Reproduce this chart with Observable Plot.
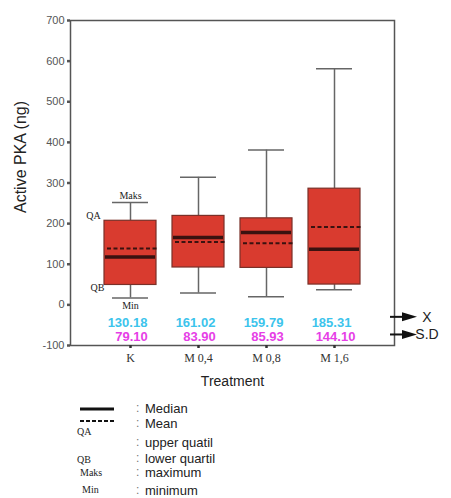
<!DOCTYPE html>
<html>
<head>
<meta charset="utf-8">
<script src="https://cdn.jsdelivr.net/npm/d3@7"></script>
<script src="https://cdn.jsdelivr.net/npm/@observablehq/plot@0.6"></script>
<style>
  body { margin: 0; background: #fff; font-family: "Liberation Sans", Arial, sans-serif; }
  #wrap { width: 451px; }
  #legend { position: relative; width: 451px; height: 103px; }
  #legend span { position: absolute; transform: translateY(-50%); white-space: nowrap; line-height: 1; }
  .k { font-family: "Liberation Serif", "Times New Roman", serif; font-size: 10px; color: #222; }
  .c { font-size: 12px; color: #777; }
  .t { font-size: 13px; color: #222; }
</style>
</head>
<body>
<div id="wrap">
  <div id="chart"></div>
  <div id="legend"></div>
</div>
<script>
// ---- data ----
const categories = ["K", "M 0,4", "M 0,8", "M 1,6"];
const maxima    = [252, 314, 381, 581];
const upperQ    = [207, 219, 213, 286];
const medians   = [118, 166, 178, 137];
const means     = [139, 155, 152, 192];
const lowerQ    = [49, 92, 91, 50];
const minima    = [17, 29, 20, 37];
const meanLabels = ["130.18", "161.02", "159.79", "185.31"];
const sdLabels   = ["79.10", "83.90", "85.93", "144.10"];
const yTicks = [-100, 0, 100, 200, 300, 400, 500, 600, 700];

const rows = categories.map((c, i) => ({
  cat: c, max: maxima[i], q3: upperQ[i], med: medians[i], mean: means[i],
  q1: lowerQ[i], min: minima[i], mLab: meanLabels[i], sLab: sdLabels[i]
}));
const first = [rows[0]];

const serif = "Liberation Serif, Times New Roman, serif";
const sans = "Liberation Sans, Arial, sans-serif";

const plot = Plot.plot({
  width: 451,
  height: 395,
  marginLeft: 70,
  marginRight: 57,
  marginTop: 20,
  marginBottom: 50,
  style: { fontFamily: sans, background: "#fff", overflow: "visible" },
  x: { type: "band", domain: categories, paddingInner: 0.24, paddingOuter: 0.478, label: null },
  y: { domain: [-100, 700], label: null },
  marks: [
    Plot.frame({ stroke: "#555", strokeWidth: 1.5 }),
    Plot.axisY({ ticks: yTicks, tickFormat: d => String(d), tickSize: 3, tickPadding: 3, fontSize: 11, color: "#555", strokeWidth: 2.5 }),
    Plot.axisX({ tickSize: 3, tickPadding: 5, fontSize: 12, fontFamily: serif, color: "#333", strokeWidth: 2.5 }),
    // whiskers
    Plot.ruleX(rows, { x: "cat", y1: "q3", y2: "max", stroke: "#666", strokeWidth: 1.5 }),
    Plot.ruleX(rows, { x: "cat", y1: "min", y2: "q1", stroke: "#666", strokeWidth: 1.5 }),
    Plot.tickY(rows, { x: "cat", y: "max", stroke: "#666", strokeWidth: 1.5, insetLeft: 8, insetRight: 8 }),
    Plot.tickY(rows, { x: "cat", y: "min", stroke: "#666", strokeWidth: 1.5, insetLeft: 8, insetRight: 8 }),
    // boxes
    Plot.barY(rows, { x: "cat", y1: "q1", y2: "q3", fill: "#d93b2f", stroke: "#7a3028", strokeWidth: 1.2 }),
    Plot.tickY(rows, { x: "cat", y: "med", stroke: "#3a1210", strokeWidth: 3.5, insetLeft: 1, insetRight: 1 }),
    Plot.tickY(rows, { x: "cat", y: "mean", stroke: "#3a1210", strokeWidth: 2, strokeDasharray: "4,2.5", insetLeft: 3, insetRight: -2 }),
    // value labels
    Plot.text(rows, { x: "cat", y: () => -43, text: "mLab", fill: "#3cc4ec", fontWeight: "bold", fontSize: 13, dx: -3 }),
    Plot.text(rows, { x: "cat", y: () => -79, text: "sLab", fill: "#e63ee6", fontWeight: "bold", fontSize: 13, dx: 1 }),
    // annotations on first box
    Plot.text(first, { x: "cat", y: "max", text: () => "Maks", dy: -7, fontFamily: serif, fontSize: 10, fill: "#222" }),
    Plot.text(first, { x: "cat", y: "min", text: () => "Min", dy: 8, fontFamily: serif, fontSize: 10, fill: "#222" }),
    Plot.text(first, { x: "cat", y: "q3", text: () => "QA", dx: -37, dy: -5, fontFamily: serif, fontSize: 10, fill: "#222" }),
    Plot.text(first, { x: "cat", y: "q1", text: () => "QB", dx: -33, dy: 3, fontFamily: serif, fontSize: 10, fill: "#222" }),
    // axis titles
    Plot.text(["Active PKA (ng)"], { frameAnchor: "left", textAnchor: "middle", dx: -50, dy: -26, rotate: -90, fontSize: 16, fill: "#222" }),
    Plot.text(["Treatment"], { frameAnchor: "bottom", dy: 40, fontSize: 14, fill: "#222" })
  ]
});
document.getElementById("chart").appendChild(plot);

// arrows pointing to the X and S.D rows
const ys = plot.scale("y");
const svg = d3.select(plot);
const xr = 451 - 57;
[[-43, -5, "X"], [-79, -2, "S.D"]].forEach(([v, off, lab]) => {
  const yy = ys.apply(v) + off;
  svg.append("line").attr("x1", xr - 4).attr("x2", xr + 10).attr("y1", yy).attr("y2", yy)
    .attr("stroke", "#111").attr("stroke-width", 2);
  svg.append("path").attr("d", `M${xr + 8},${yy - 4.5}L${xr + 23},${yy}L${xr + 8},${yy + 4.5}Z`).attr("fill", "#111");
  svg.append("text").attr("x", xr + 33).attr("y", yy).attr("dy", "0.35em")
    .attr("font-size", 14).attr("fill", "#222").attr("font-family", sans).text(lab);
});

// legend
const legend = document.getElementById("legend");
const legendKeys = [
  { key: null, dash: false, text: "Median", y: 13 },
  { key: null, dash: true, text: "Mean", y: 28 },
  { key: "QA", text: "upper quatil", y: 47, ky: 37, kx: 77 },
  { key: "QB", text: "lower quartil", y: 63, ky: 65, kx: 77 },
  { key: "Maks", text: "maximum", y: 77, ky: 78, kx: 80 },
  { key: "Min", text: "minimum", y: 95, ky: 95, kx: 82 }
];
legendKeys.forEach(d => {
  if (d.key === null) {
    const s = document.createElement("span");
    s.style.left = "80px"; s.style.top = (d.dash ? 26 : 14) + "px";
    s.innerHTML = `<svg width="34" height="6" style="display:block"><line x1="0" x2="34" y1="3" y2="3" stroke="#111" stroke-width="${d.dash ? 2 : 3}" ${d.dash ? 'stroke-dasharray="4,2"' : ''}/></svg>`;
    legend.appendChild(s);
  } else {
    const s = document.createElement("span");
    s.className = "k"; s.style.left = d.kx + "px"; s.style.top = d.ky + "px"; s.textContent = d.key;
    legend.appendChild(s);
  }
  const c = document.createElement("span");
  c.className = "c"; c.style.left = "136px"; c.style.top = d.y + "px"; c.textContent = ":";
  legend.appendChild(c);
  const t = document.createElement("span");
  t.className = "t"; t.style.left = "145px"; t.style.top = d.y + "px"; t.textContent = d.text;
  legend.appendChild(t);
});
</script>
</body>
</html>
